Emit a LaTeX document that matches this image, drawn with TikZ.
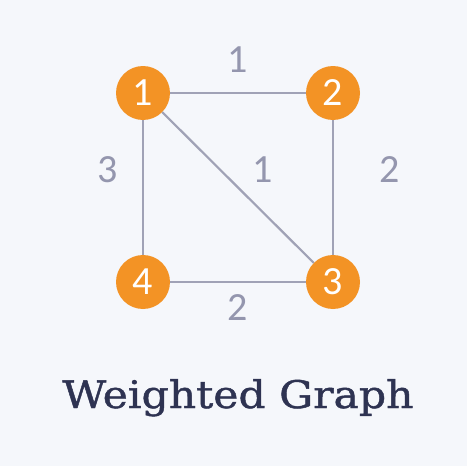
\documentclass[tikz,border=0pt]{standalone}
\usepackage{fontspec}
\setmainfont{Carlito}
\newfontfamily\titlefont[FakeStretch=1.12,FakeBold=1.2]{DejaVu Serif}
\definecolor{bgc}{HTML}{F5F7FB}
\definecolor{nodeorange}{HTML}{F39325}
\definecolor{edgegray}{HTML}{A0A2B6}
\definecolor{labelgray}{HTML}{9496AE}
\definecolor{titlenavy}{HTML}{2E3352}
\tikzset{
  vert/.style={circle, fill=nodeorange, minimum size=54pt, inner sep=0pt, text=white, font=\fontsize{40}{40}\selectfont},
  wedge/.style={draw=edgegray, line width=2.2pt},
  wlabel/.style={text=labelgray, font=\fontsize{40}{40}\selectfont, inner sep=0pt},
}
\begin{document}
\begin{tikzpicture}[x=1pt,y=-1pt]
\fill[bgc] (0,0) rectangle (467,466);
\useasboundingbox (0,0) rectangle (467,466);
\node[vert] (n1) at (143,93) {1};
\node[vert] (n2) at (333,93) {2};
\node[vert] (n3) at (333,282) {3};
\node[vert] (n4) at (143,282) {4};
\draw[wedge] (n1) -- (n2);
\draw[wedge] (n1) -- (n4);
\draw[wedge] (n1) -- (n3);
\draw[wedge] (n2) -- (n3);
\draw[wedge] (n4) -- (n3);
\node[wlabel] (l12) at (238,60) {1};
\node[wlabel] (l14) at (108,170) {3};
\node[wlabel] (l13) at (263,170) {1};
\node[wlabel] (l23) at (390,170) {2};
\node[wlabel] (l43) at (238,308) {2};
\node[text=titlenavy, font=\titlefont\fontsize{38}{38}\selectfont, anchor=base] (title) at (238,408) {Weighted Graph};
\end{tikzpicture}
\end{document}
